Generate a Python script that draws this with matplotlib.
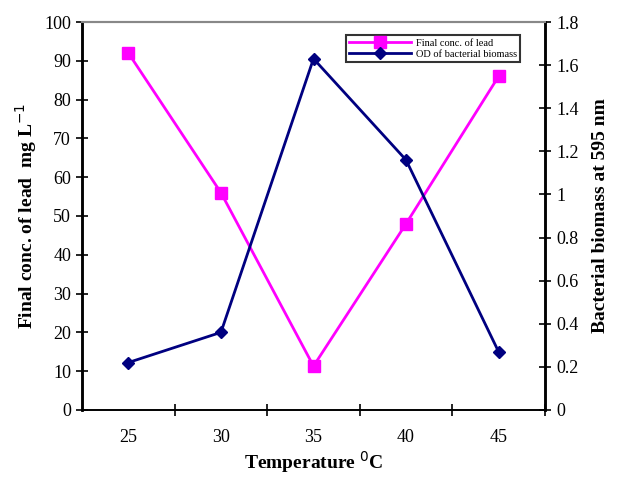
import numpy as np
import matplotlib.pyplot as plt

plt.rcParams['font.family'] = ['Liberation Serif', 'DejaVu Serif']

temps = ['25', '30', '35', '40', '45']
lead = [92, 56, 11.3, 48, 86]
biomass = [0.22, 0.36, 1.63, 1.16, 0.27]

x = np.arange(len(temps))

fig = plt.figure(figsize=(6.27, 4.8), dpi=100)
ax = fig.add_axes([0.131, 0.146, 0.738, 0.808])
ax2 = ax.twinx()

l1, = ax.plot(x, lead, color='#FF00FF', lw=2, marker='s', ms=9,
              label='Final conc. of lead')
l2, = ax2.plot(x, biomass, color='#000080', lw=2, marker='D', ms=6,
               label='OD of bacterial biomass')

ax.set_xlim(-0.5, 4.5)
ax.set_ylim(0, 100)
ax.set_yticks(np.arange(0, 101, 10))
ax2.set_ylim(0, 1.8)
ax2.set_yticks(np.arange(0, 1.81, 0.2))
ax2.set_yticklabels(['0', '0.2', '0.4', '0.6', '0.8', '1', '1.2', '1.4', '1.6', '1.8'])

# category ticks between the groups, labels in the middle
ax.set_xticks(np.arange(0.5, 4.6, 1))
ax.set_xticklabels([])
ax.set_xticks(x, minor=True)
ax.set_xticklabels(temps, minor=True)
ax.tick_params(axis='x', which='major', direction='inout', length=8, width=1.2)
ax.tick_params(axis='x', which='minor', length=0, pad=14, labelsize=13)
ax.tick_params(axis='y', direction='inout', length=8, width=1.2, labelsize=13, pad=4)
ax2.tick_params(axis='y', direction='inout', length=8, width=1.2, labelsize=13, pad=4)

for a in (ax, ax2):
    a.spines['left'].set_linewidth(1.8)
    a.spines['right'].set_linewidth(1.8)
    a.spines['bottom'].set_linewidth(1.2)
    a.spines['top'].set_color('#888888')
    a.spines['top'].set_linewidth(1.5)

ax.set_xlabel('Temperature $^{0}$C', fontsize=14, fontweight='bold', labelpad=2)
ax.set_ylabel('Final conc. of lead  mg L$^{-1}$', fontsize=14, fontweight='bold', labelpad=4)
ax2.set_ylabel('Bacterial biomass at 595 nm', fontsize=14, fontweight='bold', labelpad=10)

leg = ax.legend(handles=[l1, l2], loc='upper right', bbox_to_anchor=(0.946, 0.966),
                fontsize=7.5, frameon=True, fancybox=False, edgecolor='black',
                borderpad=0.3, handlelength=6, handletextpad=0.4,
                labelspacing=0.2, borderaxespad=0)
leg.get_frame().set_linewidth(1.5)

fig.savefig('out.png', dpi=100)
